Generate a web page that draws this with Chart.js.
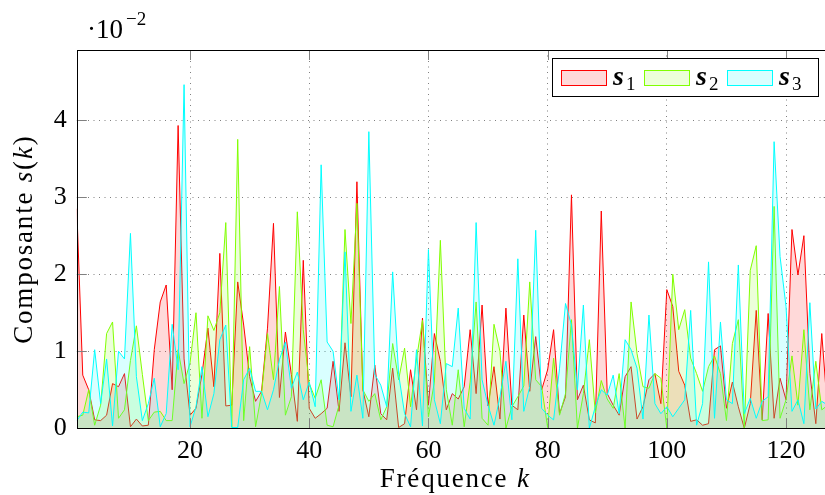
<!DOCTYPE html>
<html>
<head>
<meta charset="utf-8">
<script src="https://cdn.jsdelivr.net/npm/chart.js@4.4.1/dist/chart.umd.min.js"></script>
<style>
  html, body { margin: 0; padding: 0; background: #fff; overflow: hidden; }
  #wrap { width: 825px; height: 495px; overflow: hidden; }
</style>
</head>
<body>
<div id="wrap"><canvas id="chart" width="845" height="495"></canvas></div>
<script>
// frequency index k (x axis)
const freq = Array.from({ length: 128 }, (_, i) => i + 1);

// component values, in units of 10^-2
const s1 = [2.85, 0.69, 0.5, 0.11, 0.1, 0.17, 0.58, 0.54, 0.71, 0.02,
  0.12, 0.03, 0.04, 1.02, 1.64, 1.86, 0.5, 3.93, 0.9, 0.17,
  0.26, 0.7, 1.3, 0.54, 2.27, 0.29, 0.3, 1.9, 1.34, 0.67,
  0.35, 0.48, 1.3, 2.66, 0.4, 1.25, 0.7, 0.09, 2.18, 0.26,
  0.13, 0.19, 0.26, 0.87, 0.22, 1.11, 0.41, 3.2, 0.5, 0.15,
  0.82, 0.19, 0.11, 0.78, 0.01, 0.06, 0.76, 0.24, 1.43, 0.3,
  1.23, 0.87, 0.24, 0.45, 0.38, 0.54, 1.28, 0.45, 1.6, 0.29,
  0.8, 0.12, 1.56, 0.3, 0.24, 1.47, 0.48, 1.19, 0.5, 0.76,
  1.28, 0.19, 0.41, 3.03, 0.37, 0.56, 0.11, 0.07, 2.82, 0.45,
  0.3, 0.17, 0.67, 0.8, 0.12, 0.28, 0.63, 0.71, 0.32, 1.8,
  1.58, 0.74, 0.56, 0.09, 0.11, 0.04, 0.06, 1.02, 1.07, 0.26,
  0.6, 0.28, 0, 0.32, 1.53, 0.11, 1.49, 0.13, 0.65, 0.37,
  2.58, 1.99, 2.5, 0.71, 0.06, 1.23, 0.2, 0.5];

const s2 = [0.15, 0.17, 0.5, 0.04, 0.3, 1.23, 1.38, 0.13, 0.24, 0.88,
  1.33, 0.7, 0.1, 0.21, 0.22, 0.1, 0.1, 1.02, 0.58, 0.85,
  1.5, 0.13, 1.46, 1.27, 1.5, 2.67, 0.02, 3.75, 0.1, 1.06,
  0.02, 0.45, 1.23, 0.63, 1.84, 0.17, 0.41, 2.81, 1.28, 0.58,
  0.39, 0.63, 0.04, 0.02, 0.3, 2.58, 1.36, 2.92, 0.5, 0.35,
  0.45, 0.11, 0.28, 1.1, 0.63, 1.04, 0.28, 0.9, 1.4, 0.15,
  0.6, 2.44, 0.5, 0.04, 0.76, 0.02, 0.6, 1.64, 0.13, 0.04,
  1.35, 1.0, 0, 0.28, 0.41, 0.55, 1.9, 0.63, 0.54, 0.01,
  0.91, 0.17, 0.45, 1.41, 0, 0.45, 1.15, 0.2, 0.62, 0.38,
  0.26, 0.71, 0, 1.64, 0.97, 0.54, 0.52, 0.71, 0.65, 0,
  2.0, 1.28, 1.54, 0.91, 0.71, 0.48, 0.8, 0.94, 0.71, 0.1,
  1.1, 1.41, 0, 2.05, 2.37, 0.1, 0.11, 2.88, 0.13, 0.37,
  0.94, 0.3, 1.28, 0.24, 0.87, 0.24, 0.3, 0.4];

const s3 = [0.1, 0.21, 0.2, 1.02, 0.32, 0.9, 0.03, 1.0, 0.9, 2.53,
  0.67, 0.1, 0.32, 0.65, 0.02, 0.19, 1.35, 0.76, 4.46, 0.02,
  0.28, 0.8, 0.15, 0.45, 1.15, 1.34, 0.01, 0.01, 0.63, 0.78,
  0.48, 0.48, 0.24, 0.5, 0.89, 1.12, 0.52, 0.73, 0.37, 0.6,
  0.28, 3.42, 1.12, 1.0, 0.37, 2.29, 0.22, 0.69, 0.13, 3.85,
  0.7, 0.56, 0.28, 2.03, 0.7, 0.19, 0.02, 1.02, 0.03, 2.32,
  0.37, 0.06, 0.84, 0.8, 1.56, 0.26, 0.12, 2.67, 0.63, 0.3,
  0.04, 0.41, 0.87, 0.11, 2.2, 0.22, 0.54, 2.57, 0.26, 0.17,
  0.11, 0.78, 1.62, 1.34, 0.5, 1.6, 0, 0.28, 0.5, 0.43,
  0.69, 0.19, 1.15, 1.02, 0.78, 0.12, 1.47, 0.32, 0.19, 0.28,
  0.15, 0.26, 0.37, 1.53, 0.04, 0.32, 2.16, 0.13, 1.38, 0.37,
  0.32, 2.12, 0.19, 0.39, 0.13, 0.35, 0.41, 3.72, 2.23, 1.58,
  0.22, 0.37, 0.06, 1.63, 0.25, 0.35, 0.3, 0.2];

const seriesSub = ['1', '2', '3'];
const xTicks = [20, 40, 60, 80, 100, 120];
const yTicks = [0, 1, 2, 3, 4];
const xMin = 1, xMax = 128;
const yMax = 4.91;

const lineColors = ['#ff0000', '#80ff00', '#00ffff'];
const fillColors = ['rgba(255,0,0,0.15)', 'rgba(128,255,0,0.15)', 'rgba(0,255,255,0.15)'];

const SERIF = '"Liberation Serif", "DejaVu Serif", serif';

function pts(vals) {
    return vals.map((v, i) => ({ x: freq[i], y: v }));
}

function drawRuns(ctx, runs, cx, y) {
    let total = 0;
    runs.forEach(r => { ctx.font = r.font; r.w = ctx.measureText(r.text).width; total += r.w; });
    let x = cx - total / 2;
    runs.forEach(r => {
        ctx.font = r.font;
        ctx.fillText(r.text, x, y + (r.dy || 0));
        x += r.w;
    });
}

// ticks inside the frame, black box, legend and the math-styled labels
const decorPlugin = {
    id: 'decor',
    afterDatasetsDraw(chart) {
        const { ctx, chartArea: a, scales } = chart;
        ctx.save();
        ctx.strokeStyle = '#808080';
        ctx.lineWidth = 1;
        ctx.beginPath();
        xTicks.forEach(v => {
            const px = Math.round(scales.x.getPixelForValue(v)) + 0.5;
            ctx.moveTo(px, a.bottom); ctx.lineTo(px, a.bottom - 10);
            ctx.moveTo(px, a.top); ctx.lineTo(px, a.top + 10);
        });
        yTicks.forEach(v => {
            if (v === 0) return;
            const py = Math.round(scales.y.getPixelForValue(v)) + 0.5;
            ctx.moveTo(a.left, py); ctx.lineTo(a.left + 10, py);
            ctx.moveTo(a.right, py); ctx.lineTo(a.right - 10, py);
        });
        ctx.stroke();

        ctx.strokeStyle = '#000';
        ctx.strokeRect(Math.round(a.left) + 0.5, Math.round(a.top) + 0.5,
            Math.round(a.right - a.left), Math.round(a.bottom - a.top));

        // legend
        const lx = 552, ly = 58, lw = 266, lh = 38;
        ctx.fillStyle = '#fff';
        ctx.fillRect(lx, ly, lw, lh);
        ctx.strokeRect(lx + 0.5, ly + 0.5, lw, lh);
        ctx.textBaseline = 'alphabetic';
        ctx.textAlign = 'left';
        seriesSub.forEach((sub, i) => {
            const sx = lx + 9 + i * 83;
            ctx.fillStyle = fillColors[i];
            ctx.fillRect(sx, ly + 12, 45, 15);
            ctx.strokeStyle = lineColors[i];
            ctx.strokeRect(sx + 0.5, ly + 12.5, 45, 15);
            ctx.fillStyle = '#000';
            ctx.font = 'bold italic 28px ' + SERIF;
            ctx.fillText('s', sx + 52, ly + 27);
            const w = ctx.measureText('s').width;
            ctx.font = '19px ' + SERIF;
            ctx.fillText(sub, sx + 54 + w, ly + 32);
        });
        ctx.restore();
    },
    afterDraw(chart) {
        const { ctx, chartArea: a } = chart;
        ctx.save();
        ctx.fillStyle = '#000';
        ctx.textAlign = 'left';
        ctx.textBaseline = 'alphabetic';
        const up = '27px ' + SERIF, it = 'italic 27px ' + SERIF;

        ctx.letterSpacing = '1.8px';
        drawRuns(ctx, [
            { text: 'Fréquence ', font: up },
            { text: 'k', font: it }
        ], (a.left + a.right) / 2, 487);

        ctx.save();
        ctx.translate(32, (a.top + a.bottom) / 2);
        ctx.rotate(-Math.PI / 2);
        drawRuns(ctx, [
            { text: 'Composante ', font: up },
            { text: 's', font: it },
            { text: '(', font: up },
            { text: 'k', font: it },
            { text: ')', font: up }
        ], 0, 0);
        ctx.restore();
        ctx.letterSpacing = '0px';

        ctx.font = up;
        ctx.fillText('·10', 87, 38);
        const w = ctx.measureText('·10').width;
        ctx.font = '19px ' + SERIF;
        ctx.fillText('−2', 90 + w, 25);
        ctx.restore();
    }
};

const datasets = [s1, s2, s3].map((vals, i) => ({
    label: 's' + seriesSub[i],
    data: pts(vals),
    borderColor: lineColors[i],
    backgroundColor: fillColors[i],
    borderWidth: 1,
    pointRadius: 0,
    tension: 0,
    fill: 'origin',
    order: 3 - i
}));

new Chart(document.getElementById('chart'), {
    type: 'line',
    data: { datasets },
    options: {
        responsive: false,
        animation: false,
        layout: { padding: { left: 0, right: 11.3, top: 50, bottom: 0 } },
        plugins: { legend: { display: false }, tooltip: { enabled: false } },
        scales: {
            x: {
                type: 'linear',
                min: xMin,
                max: xMax,
                afterBuildTicks: (scale) => { scale.ticks = xTicks.map(v => ({ value: v })); },
                afterFit: (scale) => { scale.height = 66.7; },
                grid: { color: '#808080', lineWidth: 1, drawTicks: false },
                border: { display: false, dash: [1, 4.5] },
                ticks: { color: '#000', font: { family: SERIF, size: 26 }, padding: 7, maxRotation: 0, autoSkip: false }
            },
            y: {
                min: 0,
                max: yMax,
                afterBuildTicks: (scale) => { scale.ticks = yTicks.map(v => ({ value: v })); },
                afterFit: (scale) => { scale.width = 76.8; },
                grid: { color: '#808080', lineWidth: 1, drawTicks: false },
                border: { display: false, dash: [1, 4.5] },
                ticks: { color: '#000', font: { family: SERIF, size: 26 }, padding: 10 }
            }
        }
    },
    plugins: [decorPlugin]
});
</script>
</body>
</html>
